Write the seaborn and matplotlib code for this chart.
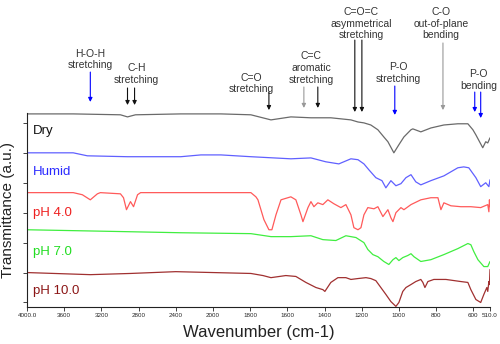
import matplotlib
matplotlib.use("Agg")
import matplotlib.pyplot as plt
import matplotlib.transforms as mtransforms
import numpy as np
import pandas as pd
import seaborn as sns

# spectra (wavenumber cm-1, transmittance a.u. incl. offset)
dry_wn = [4000, 3503, 2995, 2919, 2833, 2346, 1957, 1796, 1688, 1581, 1473, 1366, 1258, 1220,
          1188, 1151, 1113, 1081, 1059, 1027, 1000, 973, 935, 925, 882, 828, 758, 683, 629,
          602, 586, 549, 533, 522, 510]
dry_t = [6.3, 6.3, 6.27, 6.2, 6.27, 6.3, 6.3, 6.27, 6.1, 6.2, 6.17, 6.17, 6.1, 6.03,
         6.0, 5.93, 5.77, 5.53, 5.37, 5.0, 5.27, 5.53, 5.77, 5.8, 5.7, 5.83, 5.93, 5.97, 5.97,
         5.77, 5.6, 5.17, 5.37, 5.33, 5.5]

humid_wn = [4000, 3503, 3351, 2919, 2346, 2130, 1957, 1796, 1581, 1473, 1393, 1323, 1258, 1220,
            1188, 1161, 1124, 1091, 1070, 1043, 1016, 989, 962, 935, 909, 882, 828, 758, 683,
            651, 624, 586, 560, 533, 516, 510]
humid_t = [5.0, 5.0, 4.9, 4.87, 4.87, 4.93, 4.93, 4.87, 4.8, 4.83, 4.7, 4.63, 4.8, 4.77,
           4.63, 4.43, 4.17, 4.07, 3.83, 4.07, 3.9, 3.97, 4.17, 4.27, 4.03, 3.93, 4.07, 4.23, 4.5,
           4.53, 4.5, 4.17, 3.87, 4.0, 3.87, 4.1]

ph4_wn = [4000, 3503, 3405, 3319, 3243, 3211, 2995, 2962, 2930, 2887, 2854, 2811, 2778, 2130,
          1796, 1769, 1758, 1726, 1699, 1683, 1661, 1634, 1581, 1554, 1527, 1516, 1489, 1473,
          1457, 1436, 1409, 1382, 1350, 1312, 1285, 1258, 1242, 1220, 1204, 1188, 1167, 1134,
          1113, 1086, 1059, 1043, 1032, 1016, 989, 973, 935, 882, 828, 790, 774, 758, 720,
          667, 613, 560, 522, 516, 513, 510]
ph4_t = [3.67, 3.67, 3.6, 3.43, 3.63, 3.67, 3.63, 3.5, 3.1, 3.37, 3.2, 3.6, 3.67, 3.67,
         3.67, 3.53, 3.43, 2.77, 2.43, 2.43, 2.93, 3.43, 3.53, 3.43, 2.93, 2.7, 3.17, 3.37,
         3.2, 3.33, 3.27, 3.43, 3.3, 3.17, 3.27, 2.93, 2.5, 2.43, 2.5, 2.93, 3.17, 3.13,
         3.2, 2.87, 3.1, 2.83, 2.7, 3.0, 3.17, 3.1, 3.27, 3.43, 3.5, 3.5, 3.1, 3.33, 3.23,
         3.2, 3.2, 3.17, 3.27, 3.03, 3.43, 3.2]

ph7_wn = [4000, 2995, 2346, 1796, 1688, 1581, 1473, 1409, 1339, 1285, 1231, 1188, 1167, 1140,
          1113, 1081, 1054, 1032, 1016, 1000, 979, 952, 935, 919, 882, 828, 758, 683, 629,
          613, 597, 575, 543, 522, 510]
ph7_t = [2.43, 2.37, 2.33, 2.3, 2.2, 2.2, 2.23, 2.1, 2.07, 2.23, 2.17, 2.0, 1.77, 1.6,
         1.53, 1.37, 1.27, 1.43, 1.5, 1.4, 1.5, 1.57, 1.63, 1.53, 1.37, 1.43, 1.6, 1.8, 1.97,
         1.93, 1.7, 1.43, 1.2, 1.2, 1.37]

ph10_wn = [4000, 3319, 2887, 2400, 1796, 1731, 1688, 1608, 1554, 1500, 1446, 1409, 1398, 1366,
           1328, 1285, 1258, 1220, 1177, 1151, 1124, 1097, 1070, 1043, 1016, 1000, 979, 962,
           935, 909, 882, 871, 860, 844, 812, 747, 667, 629, 613, 586, 560, 543, 527, 522,
           516, 513, 510]
ph10_t = [1.0, 0.93, 0.97, 1.03, 0.97, 0.9, 0.83, 0.9, 0.87, 0.67, 0.5, 0.43, 0.37, 0.67,
          0.83, 0.83, 0.77, 0.8, 0.83, 0.8, 0.73, 0.5, 0.27, 0.03, -0.13, 0.0, 0.37, 0.5,
          0.6, 0.7, 0.77, 0.67, 0.5, 0.7, 0.77, 0.77, 0.7, 0.67, 0.43, 0.1, 0.0, 0.27, 0.5,
          0.37, 0.7, 0.6, 1.1]

samples = ["Dry", "Humid", "pH 4.0", "pH 7.0", "pH 10.0"]
line_colors = ["#6a6a6a", "#6060ff", "#ff5a5a", "#40ee40", "#a03030"]
label_colors = ["#111111", "#2a2aff", "#ee2020", "#22dd22", "#8b1515"]
label_y = [5.73, 4.37, 3.0, 1.7, 0.4]

xticks = [4000, 3600, 3200, 2800, 2400, 2000, 1800, 1600, 1400, 1200, 1000, 800, 600, 510]
xticklabels = ["4000.0", "3600", "3200", "2800", "2400", "2000", "1800", "1600", "1400",
               "1200", "1000", "800", "600", "510.0"]

# band annotations: text, text x, text y (axes frac), arrow x list, arrow top/bottom, colours
bands = [
    ("H-O-H\nstretching", 3319, 1.275, [3319], 1.211, [1.057], ["#0000ff"]),
    ("C-H\nstretching", 2822, 1.2, [2919, 2843], 1.129, [1.041, 1.041], ["#111111", "#111111"]),
    ("C=O\nstretching", 1796, 1.152, [1699], 1.108, [1.015], ["#111111"]),
    ("C=C\naromatic\nstretching", 1473, 1.232, [1511, 1436], 1.134, [1.026, 1.026], ["#999999", "#111111"]),
    ("C=O=C\nasymmetrical\nstretching", 1204, 1.46, [1237, 1199], 1.376, [1.005, 1.005], ["#111111", "#111111"]),
    ("P-O\nstretching", 1005, 1.205, [1022], 1.139, [0.99], ["#0000ff"]),
    ("C-O\nout-of-plane\nbending", 774, 1.46, [763], 1.361, [1.015], ["#999999"]),
    ("P-O\nbending", 570, 1.17, [592, 560], 1.108, [1.005, 0.974], ["#0000ff", "#0000ff"]),
]

frames = []
for name, wn, t in zip(samples, [dry_wn, humid_wn, ph4_wn, ph7_wn, ph10_wn],
                       [dry_t, humid_t, ph4_t, ph7_t, ph10_t]):
    frames.append(pd.DataFrame({"wavenumber": wn, "T": t, "sample": name}))
df = pd.concat(frames, ignore_index=True)

sns.set_style("white")
plt.rcParams["font.family"] = ["Liberation Sans", "DejaVu Sans"]

fig = plt.figure(figsize=(5, 3.44), dpi=100)
ax = fig.add_axes([0.054, 0.1076, 0.926, 0.5639])

sns.lineplot(data=df, x="wavenumber", y="T", hue="sample", hue_order=samples,
             palette=dict(zip(samples, line_colors)), sort=False, estimator=None,
             legend=False, linewidth=0.9, ax=ax)


def fwd(w):
    w = np.asarray(w, dtype=float)
    return np.where(w > 2000, 2000 + (w - 2000) / 2, w)


def inv(u):
    u = np.asarray(u, dtype=float)
    return np.where(u > 2000, 2000 + (u - 2000) * 2, u)


ax.set_xscale("function", functions=(fwd, inv))
ax.set_xlim(4000, 510)
ax.set_ylim(-0.15, 6.33)
ax.set_xticks(xticks)
ax.set_xticklabels(xticklabels, fontsize=4.5)
ax.set_yticks(range(7))
ax.set_yticklabels([])
ax.tick_params(axis="both", direction="out", length=3, width=0.6, color="#222222",
               bottom=True, left=True, pad=1.5)
ax.minorticks_off()

for s in ["top", "right"]:
    ax.spines[s].set_visible(False)
for s in ["left", "bottom"]:
    ax.spines[s].set_color("#222222")
    ax.spines[s].set_linewidth(0.8)

ax.set_xlabel("Wavenumber (cm-1)", fontsize=12, labelpad=5, color="#222222")
ax.set_ylabel("Transmittance (a.u.)", fontsize=11, labelpad=4, color="#222222")

for name, c, y in zip(samples, label_colors, label_y):
    ax.text(3935, y, name, color=c, fontsize=9.5, va="center", ha="left")

trans = mtransforms.blended_transform_factory(ax.transData, ax.transAxes)
for text, tx, ty, axs, top, bots, cols in bands:
    ax.text(tx, ty, text, transform=trans, ha="center", va="center", fontsize=7.5,
            color="#333333", linespacing=1.2, clip_on=False)
    for xa, bot, col in zip(axs, bots, cols):
        ax.annotate("", xy=(xa, bot), xytext=(xa, top), xycoords=trans, textcoords=trans,
                    annotation_clip=False,
                    arrowprops=dict(arrowstyle="-|>", color=col, lw=0.8,
                                    mutation_scale=6, shrinkA=0, shrinkB=0))

fig.savefig("out.png", dpi=100)
